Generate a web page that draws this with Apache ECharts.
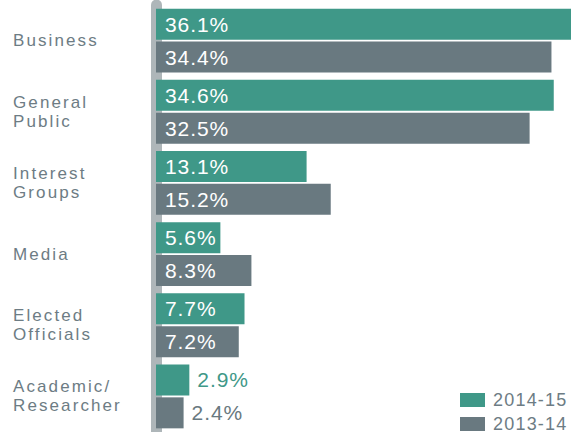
<!DOCTYPE html>
<html>
<head>
<meta charset="utf-8">
<script src="https://cdn.jsdelivr.net/npm/echarts@6/dist/echarts.min.js"></script>
<style>
html,body{margin:0;padding:0;background:#fff;}
#c{width:575px;height:432px;}
text[style*="17px"]{letter-spacing:2.1px;}
text[style*="21px"]{letter-spacing:0.9px;}
text[style*="18px"]{letter-spacing:1.2px;}
</style>
</head>
<body>
<div id="c"></div>
<script>
const categories = ['Business', 'General\nPublic', 'Interest\nGroups', 'Media', 'Elected\nOfficials', 'Academic/\nResearcher'];
const seriesNames = ['2014-15', '2013-14'];
const values2014 = [36.1, 34.6, 13.1, 5.6, 7.7, 2.9];
const values2013 = [34.4, 32.5, 15.2, 8.3, 7.2, 2.4];

const colors = ['#3f9888', '#697980'];
const FONT = 'Liberation Sans';

function makeData(vals, color) {
  return vals.map(v => v < 4
    ? { value: v, label: { position: 'right', distance: 8, color: color } }
    : { value: v });
}

function legendFor(name, top) {
  return {
    data: [name],
    orient: 'vertical',
    left: 460,
    top: top,
    padding: 0,
    itemWidth: 25,
    itemHeight: 14,
    icon: 'rect',
    textStyle: { fontFamily: FONT, fontSize: 18, color: '#6d7c84', padding: [0, 0, 0, 3] }
  };
}

const chart = echarts.init(document.getElementById('c'), null, { renderer: 'svg' });
chart.setOption({
  animation: false,
  backgroundColor: '#ffffff',
  grid: { left: 156, right: 4, top: 5, height: 431 },
  legend: [legendFor(seriesNames[0], 391), legendFor(seriesNames[1], 415)],
  xAxis: { type: 'value', min: 0, max: 36.1, show: false },
  yAxis: {
    type: 'category',
    data: categories,
    inverse: true,
    offset: 10,
    axisLine: { show: true, lineStyle: { color: '#aeb6b9', width: 11 } },
    axisTick: { show: false },
    axisLabel: {
      align: 'left',
      margin: 133,
      fontFamily: FONT,
      fontSize: 17,
      lineHeight: 19,
      color: '#6d7c84'
    },
    splitLine: { show: false }
  },
  series: [
    {
      name: seriesNames[0],
      type: 'bar',
      data: makeData(values2014, colors[0]),
      itemStyle: { color: colors[0] },
      barWidth: 31,
      barGap: '6%',
      label: { show: true, position: 'insideLeft', distance: 9, formatter: '{c}%', fontFamily: FONT, fontSize: 21, color: '#ffffff' }
    },
    {
      name: seriesNames[1],
      type: 'bar',
      data: makeData(values2013, colors[1]),
      itemStyle: { color: colors[1] },
      barWidth: 31,
      barGap: '6%',
      label: { show: true, position: 'insideLeft', distance: 9, formatter: '{c}%', fontFamily: FONT, fontSize: 21, color: '#ffffff' }
    }
  ]
});
</script>
</body>
</html>
